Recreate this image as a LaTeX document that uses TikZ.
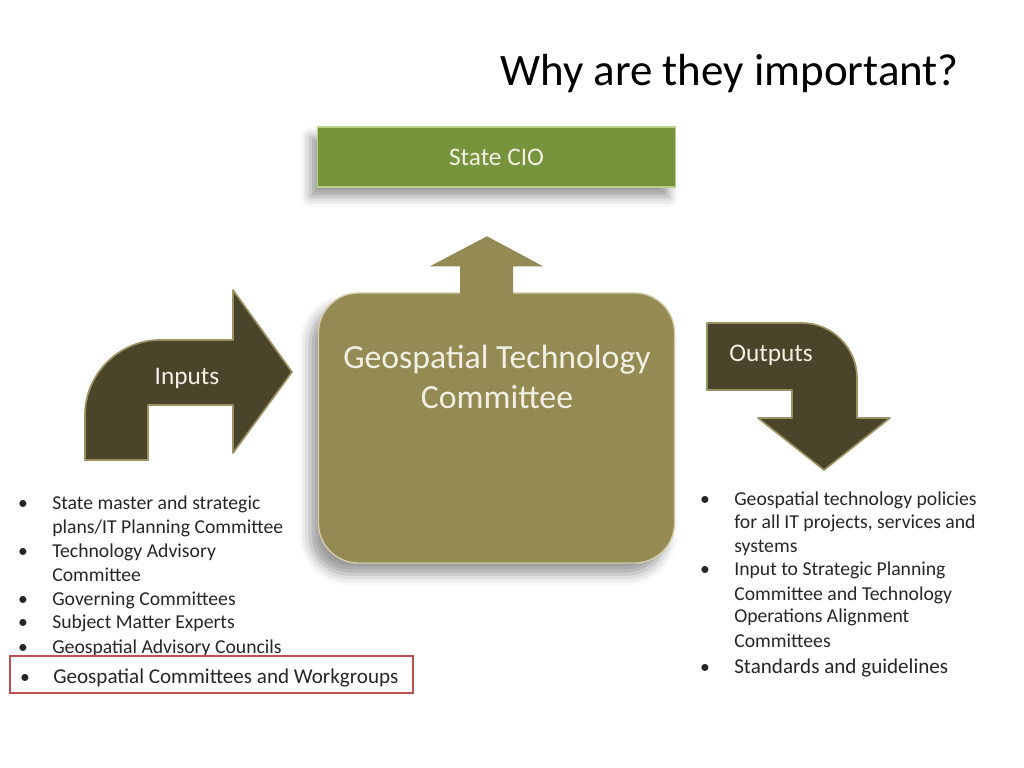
\documentclass[tikz,border=0pt]{standalone}
\usepackage{fontspec}
\setmainfont{Carlito}
\usetikzlibrary{calc,shadows.blur}
\definecolor{cioGreen}{HTML}{77933C}
\definecolor{cioEdge}{HTML}{B9CF8A}
\definecolor{gtcTan}{HTML}{948A54}
\definecolor{gtcEdge}{HTML}{D2CCA8}
\definecolor{arrowDark}{HTML}{4A452A}
\definecolor{arrowEdge}{HTML}{9A9262}
\definecolor{labelWhite}{HTML}{F2F0E4}
\definecolor{listGray}{HTML}{262626}
\definecolor{markRed}{HTML}{C0504D}
\begin{document}
\begin{tikzpicture}[x=0.025cm, y=-0.025cm,
    cioBox/.style={rectangle, fill=cioGreen, draw=cioEdge, line width=1pt,
        minimum width=8.95cm, minimum height=1.5cm,
        blur shadow={shadow xshift=-5pt, shadow yshift=-7pt, shadow blur radius=7pt}},
    gtcBox/.style={rectangle, rounded corners=1cm, fill=gtcTan, draw=gtcEdge, line width=1pt,
        minimum width=8.9cm, minimum height=6.75cm,
        blur shadow={shadow xshift=-6pt, shadow yshift=-8pt, shadow blur radius=8pt}},
    bigArrow/.style={fill=arrowDark, draw=arrowEdge, line width=1.2pt, line join=round},
    boxLabel/.style={text=labelWhite, font=\fontsize{18}{22}\selectfont},
    gtcLabel/.style={anchor=base, text=labelWhite, font=\fontsize{24}{29}\selectfont, inner sep=0pt},
    listLine/.style={anchor=base west, text=listGray, font=\fontsize{14}{17}\selectfont, inner sep=0pt},
    listDot/.style={anchor=base, text=listGray, font=\fontsize{14}{17}\selectfont, inner sep=0pt},
    markLine/.style={anchor=base west, text=listGray, font=\fontsize{15}{18}\selectfont, inner sep=0pt},
    markBox/.style={draw=markRed, line width=1.5pt}]
    \useasboundingbox (0,0) rectangle (1024,768);

    % title
    \node[anchor=base west, inner sep=0pt, font=\fontsize{32}{38}\selectfont] (title) at (500,86) {Why are they important?};

    % state cio on top
    \node[cioBox] (cio) at (496.5,157) {};
    \node[boxLabel] (cioText) at (cio.center) {State CIO};

    % the committee in the middle
    \node[gtcBox] (gtc) at (496.5,428) {};
    \node[gtcLabel] (gtcText1) at (497,368) {Geospatial Technology};
    \node[gtcLabel] (gtcText2) at (497,408) {Committee};

    % arrow up from the committee to the cio
    \fill[gtcTan, shift={(gtc.north)}] (-36.5,3) -- (-36.5,-26) -- (-66.5,-26) -- (-9.5,-56)
        -- (46.5,-26) -- (16.5,-26) -- (16.5,3) -- cycle;

    % inputs arrow, bent up and to the right
    \filldraw[bigArrow] (148,460) -- (85,460) -- (85,415) .. controls (85,374) and (119,340) .. (160,340)
        -- (233,340) -- (233,290) -- (292,372) -- (233,453) -- (233,405) -- (148,405) -- cycle;
    \node[boxLabel] (inputs) at (187,378) {Inputs};

    % outputs arrow, bent right and down
    \filldraw[bigArrow] (707,323) -- (802,323) .. controls (832,323) and (857,348) .. (857,378)
        -- (857,418) -- (890,418) -- (824,470) -- (758,418) -- (792,418) -- (792,390) -- (707,390) -- cycle;
    \node[boxLabel] (outputs) at (771,355) {Outputs};

    % inputs list
    \foreach \y [count=\i] in {509,557,605,628,653}
        \node[listDot] (inDot\i) at (23,\y) {\textbullet};
    \foreach \y/\txt [count=\i] in {509/{State master and strategic},
                                    533/{plans/IT Planning Committee},
                                    557/{Technology Advisory},
                                    581/{Committee},
                                    605/{Governing Committees},
                                    628/{Subject Matter Experts},
                                    653/{Geospatial Advisory Councils}}
        \node[listLine] (inLine\i) at (52,\y) {\txt};

    % the marked input
    \draw[markBox] (10,656) rectangle (413,693);
    \node[listDot] (markDot) at (25,683) {\textbullet};
    \node[markLine] (markText) at (53,683) {Geospatial Committees and Workgroups};

    % outputs list
    \foreach \y [count=\i] in {505,575,673}
        \node[listDot] (outDot\i) at (705,\y) {\textbullet};
    \foreach \y/\txt [count=\i] in {505/{Geospatial technology policies},
                                    528/{for all IT projects, services and},
                                    552/{systems},
                                    575/{Input to Strategic Planning},
                                    600/{Committee and Technology},
                                    622/{Operations Alignment},
                                    647/{Committees}}
        \node[listLine] (outLine\i) at (734,\y) {\txt};
    \node[markLine] (outLast) at (734,673) {Standards and guidelines};
\end{tikzpicture}
\end{document}
